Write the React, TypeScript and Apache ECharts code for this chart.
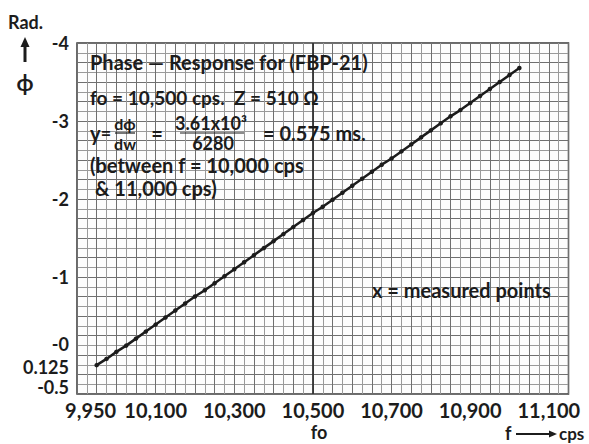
import React, { useEffect, useRef } from "react";
import * as echarts from "echarts";

// Measured points: frequency (cps) and phase (rad)
const freqs = [
  9950, 9975, 10000, 10025, 10050, 10075, 10100, 10125, 10150, 10175,
  10200, 10225, 10250, 10275, 10300, 10325, 10350, 10375, 10400, 10425,
  10450, 10475, 10500, 10525, 10550, 10575, 10600, 10625, 10650, 10675,
  10700, 10725, 10750, 10775, 10800, 10825, 10850, 10875, 10900, 10925,
  10950, 10975, 11000, 11025,
];
const phases = [
  0.13, 0.05, -0.04, -0.12, -0.21, -0.3, -0.39, -0.48, -0.57, -0.66,
  -0.75, -0.83, -0.92, -1.01, -1.1, -1.19, -1.28, -1.37, -1.46, -1.55,
  -1.64, -1.73, -1.82, -1.9, -1.99, -2.08, -2.17, -2.26, -2.35, -2.44,
  -2.52, -2.61, -2.7, -2.79, -2.88, -2.97, -3.06, -3.14, -3.23, -3.32,
  -3.41, -3.5, -3.59, -3.68,
];

// Tick labels
const xTickValues = [9950, 10100, 10300, 10500, 10700, 10900, 11100];
const xTickLabels = ["9,950", "10,100", "10,300", "10,500", "10,700", "10,900", "11,100"];
const yTickValues = [-4, -3, -2, -1, 0, 0.125, 0.5];
const yTickLabels = ["-4", "-3", "-2", "-1", "-0", "0.125", "-0.5"];
const fo = 10500;

const FONT = "Lato, 'Open Sans', sans-serif";
const INK = "#1c1c1c";

export default function App() {
  const ref = useRef<HTMLDivElement>(null);
  useEffect(() => {
    if (!ref.current) return;
    const chart = echarts.init(ref.current, null, { renderer: "svg" });
    const pts = freqs.map((f, i) => [f, phases[i]]);
    const t = (text: string, x: number, y: number, size = 20, align = "left") => ({
      type: "text",
      x,
      y,
      style: {
        text,
        fill: INK,
        font: `bold ${size}px ${FONT}`,
        textAlign: align,
        textVerticalAlign: "middle",
      },
      z: 100,
    });
    const ln = (x1: number, y1: number, x2: number, y2: number, w = 1.2) => ({
      type: "line",
      shape: { x1, y1, x2, y2 },
      style: { stroke: INK, lineWidth: w },
      z: 100,
    });
    const lbl = (size: number, padding: number[]) => ({
      padding,
      color: INK,
      fontFamily: FONT,
      fontWeight: "bold",
      fontSize: size,
    });
    chart.setOption({
      animation: false,
      backgroundColor: "#ffffff",
      grid: {
        left: 77,
        top: 43,
        width: 491.5,
        height: 351,
        show: true,
        borderColor: "#3a3a3a",
        borderWidth: 1.5,
        backgroundColor: "#fdfdfd",
      },
      xAxis: {
        type: "value",
        min: 9900,
        max: 11150,
        interval: 50,
        axisLine: { show: false },
        axisTick: { show: false },
        minorTick: { show: false, splitNumber: 2 },
        splitLine: {
          show: true,
          lineStyle: { color: "#6f6f6f", width: 1 },
        },
        minorSplitLine: {
          show: true,
          lineStyle: { color: "#9a9a9a", width: 1 },
        },
        axisLabel: {
          customValues: xTickValues,
          formatter: (v: number) => {
            const i = xTickValues.indexOf(v);
            if (i < 0) return "";
            return i === 0 ? `{l|${xTickLabels[i]}}` : xTickLabels[i];
          },
          margin: 6,
          color: INK,
          fontFamily: FONT,
          fontWeight: "bold",
          fontSize: 20,
          rich: { l: lbl(20, [0, 12, 0, 0]) },
        },
      },
      yAxis: {
        type: "value",
        inverse: true,
        min: -4,
        max: 0.5,
        interval: 0.25,
        axisLine: { show: false },
        axisTick: { show: false },
        minorTick: { show: false, splitNumber: 2 },
        splitLine: {
          show: true,
          lineStyle: { color: "#6f6f6f", width: 1 },
        },
        minorSplitLine: {
          show: true,
          lineStyle: { color: "#9a9a9a", width: 1 },
        },
        axisLabel: {
          customValues: yTickValues,
          formatter: (v: number) => {
            const i = yTickValues.indexOf(v);
            if (i < 0) return "";
            const s = yTickLabels[i];
            if (s === "-0") return `{up0|${s}}`;
            if (s === "0.125") return `{dn|${s}}`;
            if (s === "-0.5") return `{up|${s}}`;
            return s;
          },
          margin: 8,
          color: INK,
          fontFamily: FONT,
          fontWeight: "bold",
          fontSize: 18,
          rich: {
            up0: lbl(18, [0, 0, 22, 0]),
            dn: lbl(18, [4, 0, 0, 0]),
            up: lbl(18, [0, 0, 14, 0]),
          },
        },
      },
      series: [
        {
          type: "line",
          data: pts,
          symbol: "circle",
          symbolSize: 4.5,
          showSymbol: true,
          lineStyle: { color: INK, width: 2.5 },
          itemStyle: { color: INK },
          z: 10,
          markLine: {
            silent: true,
            symbol: "none",
            label: { show: false },
            lineStyle: { color: "#333333", width: 1.8, type: "solid" },
            data: [{ xAxis: fo }],
          },
        },
      ],
      graphic: [
        t("Rad.", 8, 22, 18),
        ln(25, 62, 25, 45, 3),
        {
          type: "polygon",
          shape: { points: [[20.5, 47], [25, 37], [29.5, 47]] },
          style: { fill: INK },
          z: 100,
        },
        t("ϕ", 25, 82, 22, "center"),
        t("Phase — Response for (FBP-21)", 90, 62, 20),
        t("fo = 10,500 cps.  Z = 510 Ω", 90, 97, 19),
        t("y", 90, 133, 20),
        t("=", 106, 133, 18, "center"),
        t("dϕ", 125, 123, 16, "center"),
        ln(115, 133, 135, 133),
        t("dw", 125, 143, 16, "center"),
        t("=", 157, 133, 20, "center"),
        t("3.61x10³", 211, 123, 18, "center"),
        ln(180, 133, 244, 133),
        t("6280", 213, 143, 18, "center"),
        t("= 0.575 ms.", 263, 133, 20),
        t("(between f = 10,000 cps", 90, 165, 20),
        t("& 11,000 cps)", 95, 188, 20),
        t("x = measured points", 372, 290, 20),
        t("fo", 319, 432, 18, "center"),
        t("f", 505, 433, 18),
        ln(516, 434, 551, 434, 2),
        {
          type: "polygon",
          shape: { points: [[549, 430.5], [557, 434], [549, 437.5]] },
          style: { fill: INK },
          z: 100,
        },
        t("cps", 559, 433, 17),
      ],
    });
    return () => chart.dispose();
  }, []);
  return (
    <div
      ref={ref}
      style={{ position: "absolute", left: 0, top: 0, width: 589, height: 444 }}
    />
  );
}
